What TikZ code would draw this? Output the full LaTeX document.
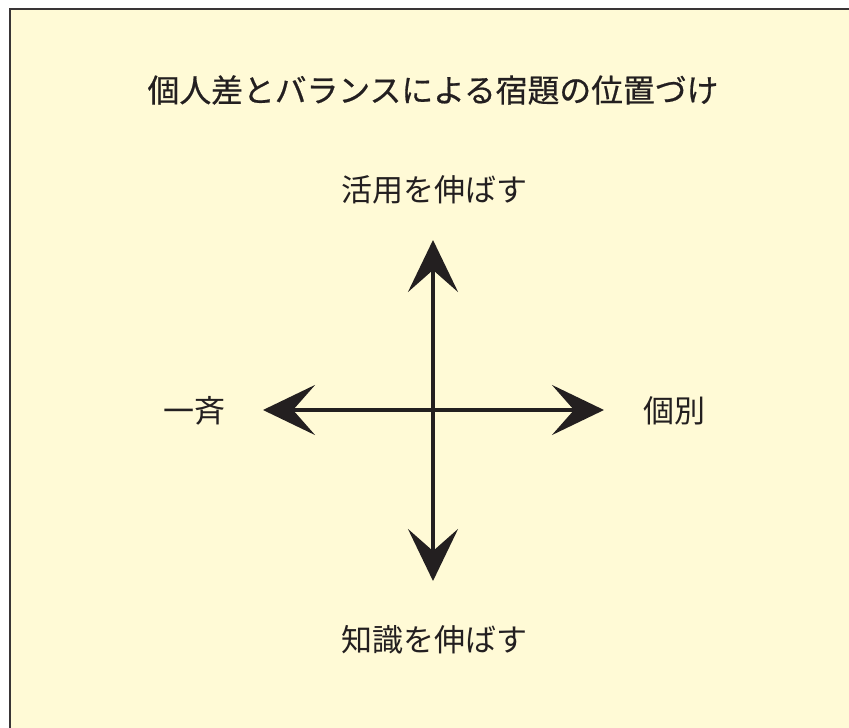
\documentclass[tikz,border=0pt]{standalone}
\usepackage{fontspec}
\newfontfamily\cjk{Noto Sans CJK JP}
\newfontfamily\cjkt[FakeBold=0.6]{Noto Sans CJK JP}
\usetikzlibrary{arrows.meta}
\definecolor{bg}{RGB}{255,250,214}
\definecolor{ink}{RGB}{35,31,32}
\begin{document}
\begin{tikzpicture}[x=1pt,y=-1pt,
  axis/.style={draw=ink,line width=4pt,-{Stealth[length=52pt,width=50pt,inset=22pt]}},
  lbl/.style={font=\cjk\fontsize{31}{36}\selectfont,text=ink,inner sep=0pt},
  ttl/.style={font=\cjkt\fontsize{31.8}{36}\selectfont,text=ink,inner sep=0pt}]
\useasboundingbox (0,0) rectangle (849,728);
\draw[fill=bg,draw=ink!90,line width=1.8pt] (10,9) rectangle (860,740);
\node[ttl] (title) at (433,90) {個人差とバランスによる宿題の位置づけ};
\coordinate (c) at (433,410);
\coordinate (top) at (433,240);
\coordinate (bot) at (433,581);
\coordinate (lft) at (263,410);
\coordinate (rgt) at (604,410);
\draw[axis] (c) -- (top);
\draw[axis] (c) -- (bot);
\draw[axis] (c) -- (lft);
\draw[axis] (c) -- (rgt);
\node[lbl] (up) at (434,190) {活用を伸ばす};
\node[lbl] (down) at (434,640) {知識を伸ばす};
\node[lbl] (left) at (194,411) {一斉};
\node[lbl] (right) at (674,411) {個別};
\end{tikzpicture}
\end{document}
